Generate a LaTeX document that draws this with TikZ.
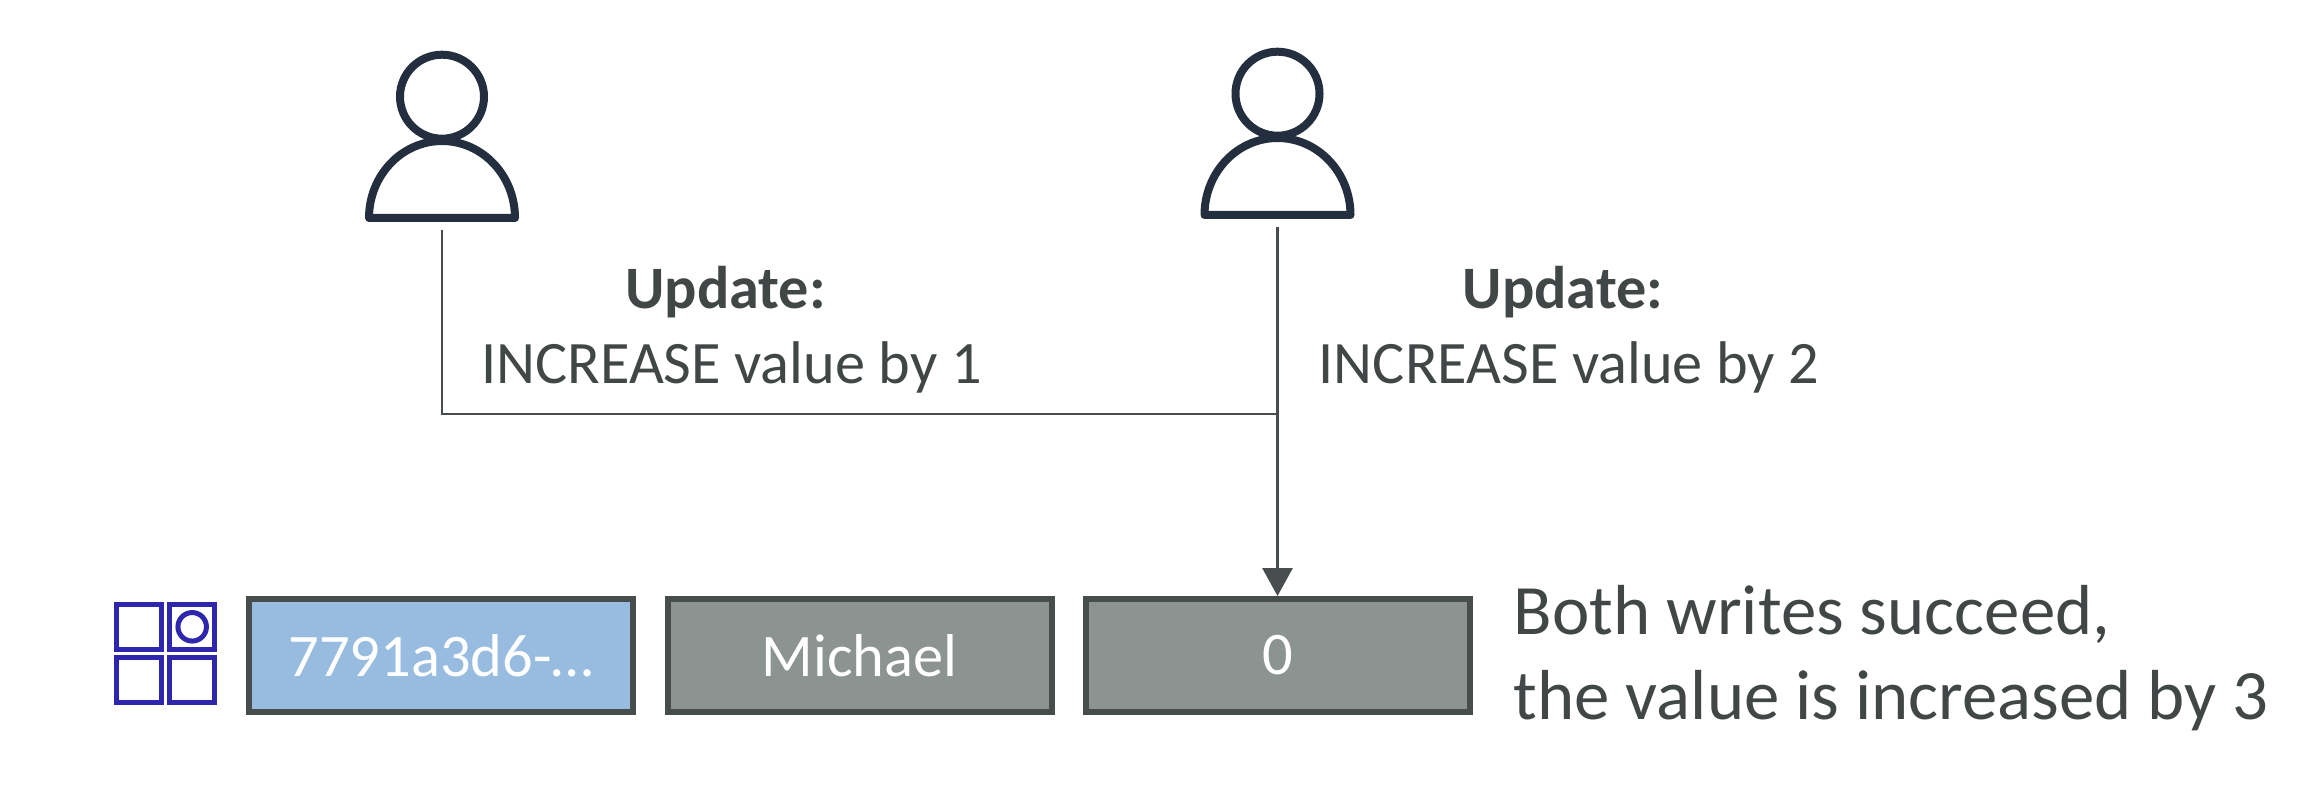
\documentclass[tikz,border=0pt]{standalone}
\usepackage{fontspec}
\usepackage{xcolor}
\setmainfont{Carlito}
\usetikzlibrary{arrows.meta}
\definecolor{usercol}{HTML}{232F3E}
\definecolor{linecol}{HTML}{474D4D}
\definecolor{textcol}{HTML}{414747}
\definecolor{idcol}{HTML}{97BCE0}
\definecolor{valcol}{HTML}{8C9492}
\definecolor{iconcol}{HTML}{2E27AD}
\tikzset{
  usernode/.style={minimum width=1.54cm,minimum height=1.88cm,inner sep=0pt,anchor=south},
  usershape/.style={draw=usercol,line width=0.08cm,line join=round},
  attrbox/.style={draw=linecol,line width=0.06cm,minimum width=3.84cm,minimum height=1.13cm,inner sep=0pt,text=white,font=\fontsize{17.2}{21}\selectfont},
  conn/.style={draw=linecol,line width=0.022cm},
  note/.style={text=textcol,align=left,inner sep=0pt},
  cell/.style={draw=iconcol,line width=0.05cm,minimum size=0.45cm,inner sep=0pt}
}
\begin{document}
\begin{tikzpicture}
\useasboundingbox (0,0) rectangle (22.98,8.02);

\node[usernode] (U1) at (4.42,5.80) {};
\node[usernode] (U2) at (12.775,5.83) {};
\foreach \n in {U1,U2} {
  \draw[usershape] (\n.south) ++(-0.73,0.04) arc[start angle=180,end angle=0,x radius=0.73,y radius=0.77] -- cycle;
  \draw[usershape] (\n.south) ++(0,1.253) circle (0.42);
}

\node[attrbox,fill=idcol] (Id) at (4.41,1.465) {7791a3d6-…};
\node[attrbox,fill=valcol] (Name) at (8.595,1.465) {Michael};
\node[attrbox,fill=valcol] (Val) at (12.775,1.465) {0};

% partition icon
\node[cell] (A) at (1.39,1.752) {};
\node[cell] (B) at (1.922,1.752) {};
\node[cell] (C) at (1.39,1.22) {};
\node[cell] (D) at (1.922,1.22) {};
\node[cell,circle,minimum size=0.285cm] (Dot) at (B) {};

\coordinate (J) at (U2 |- 0,3.88);
\draw[conn,shorten <=0.08cm] (U1.south) |- (J);
\draw[conn,shorten <=0.08cm] (U2.south) -- (J);
\draw[conn,line width=0.03cm,-{Triangle[length=0.28cm,width=0.3cm]}] (J) -- (Val.north);

\node[note,align=center,font=\fontsize{17.15}{21.25}\selectfont] (Up1) at (7.315,4.725) {\textbf{Update:}\kern0.12cm\\INCREASE value by 1};
\node[note,align=center,font=\fontsize{17.15}{21.25}\selectfont] (Up2) at (15.69,4.725) {\textbf{Update:}\kern0.12cm\\INCREASE value by 2};
\node[note,anchor=west,font=\fontsize{20.15}{24.3}\selectfont] (Res) at (15.13,1.44) {Both writes succeed,\\the value is increased by 3};
\end{tikzpicture}
\end{document}
